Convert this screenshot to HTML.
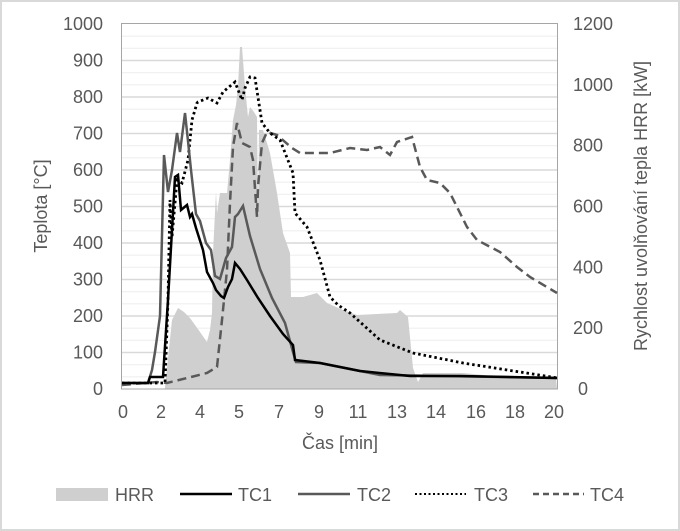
<!DOCTYPE html>
<html><head><meta charset="utf-8"><style>
html,body{margin:0;padding:0;background:#fff}
svg{display:block}
text{font-family:"Liberation Sans",Arial,sans-serif;fill:#595959}
</style></head><body>
<svg width="680" height="531" viewBox="0 0 680 531" xmlns="http://www.w3.org/2000/svg">
<rect x="1" y="1" width="678" height="529" fill="#fff" stroke="#d9d9d9" stroke-width="2"/>
<g id="grid"></g>
<polygon fill="#cfcfcf" points="165,389 165,387 172,320 178,308 184,312 190,318 200,332 207,342 210,330 212,313 213,253 216,192 217,213 220,193 227,193 230,160 233,120 236,105 238,87 240,47 242,47 245,87 248,117 250,107 254,112 257,117 258,215 259,130 263,130 270,153 277,193 283,233 290,253 291,297 303,297 317,293 327,303 343,310 357,315 397,313 400,310 408,317 413,368 418,382 423,373 463,373 513,378 556,378 557,389"/>
<rect x="121.5" y="23.5" width="436" height="365.5" fill="none" stroke="#a6a6a6" stroke-width="1"/>
<polyline fill="none" stroke="#595959" stroke-width="2.5" stroke-dasharray="9,5" points="122,385 157,382 167,383 187,378 207,373 217,367 222,320 227,270 230,203 233,147 237,123 242,143 250,147 253,160 257,217 258,187 262,143 267,132 277,135 292,148 300,153 330,153 350,148 367,150 380,147 390,155 397,142 412,137 420,167 427,180 440,183 450,193 457,207 467,227 477,240 500,252 517,267 530,277 557,293"/>
<polyline fill="none" stroke="#000" stroke-width="2.8" stroke-dasharray="2.5,3" points="122,383 160,383 165,383 168,300 170,200 172,237 177,180 182,183 188,160 192,120 197,103 198,102 208,98 217,103 223,92 235,82 242,100 245,88 250,77 255,78 262,123 270,133 280,140 293,173 295,213 307,227 320,260 330,297 338,305 350,313 380,340 413,353 463,363 558,378"/>
<polyline fill="none" stroke="#595959" stroke-width="2.5" points="122,383 148,383 152,370 155,352 160,316 164,155 168,192 172,170 177,133 180,152 185,113 188,141 191,170 196,214 200,221 206,243 211,250 215,276 220,279 226,258 232,247 235,217 238,214 243,206 250,236 260,269 272,298 285,323 293,352 296,362 320,363 380,375 557,378"/>
<polyline fill="none" stroke="#000" stroke-width="2.5" points="122,383 148,383 150,377 160,377 163,377 168,300 172,230 175,177 178,175 181,210 187,205 190,217 192,214 196,228 203,250 207,272 213,283 216,290 221,296 224,298 228,287 232,279 235,263 240,269 247,280 258,298 270,316 283,334 293,345 295,360 320,363 360,371 410,376 460,376 557,378"/>
<g font-size="18" text-anchor="end" id="lt"></g>
<g font-size="18" text-anchor="start" id="rt"></g>
<g font-size="18" text-anchor="middle">
<text x="123" y="418">0</text><text x="161" y="418">2</text><text x="200" y="418">4</text><text x="239" y="418">5</text><text x="279" y="418">7</text><text x="319" y="418">9</text><text x="358" y="418">11</text><text x="397" y="418">13</text><text x="436" y="418">14</text><text x="476" y="418">16</text><text x="515" y="418">18</text><text x="554" y="418">20</text>
<text x="340" y="449">Čas [min]</text>
</g>
<text font-size="18" text-anchor="middle" transform="translate(47,206) rotate(-90)">Teplota [°C]</text>
<text font-size="18" text-anchor="middle" transform="translate(647,206) rotate(-90)">Rychlost uvolňování tepla HRR [kW]</text>
<rect x="56" y="488" width="52" height="13" fill="#cfcfcf"/>
<text x="115" y="501" font-size="18">HRR</text>
<line x1="180" y1="494" x2="232" y2="494" stroke="#000" stroke-width="2.5"/>
<text x="238" y="501" font-size="18">TC1</text>
<line x1="298" y1="494" x2="350" y2="494" stroke="#595959" stroke-width="2.5"/>
<text x="357" y="501" font-size="18">TC2</text>
<line x1="415" y1="494" x2="466" y2="494" stroke="#000" stroke-width="2" stroke-dasharray="2,2.5"/>
<text x="474" y="501" font-size="18">TC3</text>
<line x1="533" y1="494" x2="584" y2="494" stroke="#595959" stroke-width="2.5" stroke-dasharray="6,4"/>
<text x="590" y="501" font-size="18">TC4</text>
</svg>
<script>
var ns="http://www.w3.org/2000/svg";
var g=document.getElementById("grid");
for(var i=1;i<30;i++){var y=389-i*36.5/3;var l=document.createElementNS(ns,"line");
l.setAttribute("x1",121.5);l.setAttribute("x2",557.5);l.setAttribute("y1",y);l.setAttribute("y2",y);
l.setAttribute("stroke",i%3==0?"#d9d9d9":"#efefef");l.setAttribute("stroke-width",i%3==0?1.5:1.2);g.appendChild(l);}
var lt=document.getElementById("lt");
for(var i=0;i<=10;i++){var t=document.createElementNS(ns,"text");t.setAttribute("x",103);t.setAttribute("y",389-i*36.5+6);t.textContent=i*100;lt.appendChild(t);}
var rt=document.getElementById("rt");
for(var i=0;i<=6;i++){var t=document.createElementNS(ns,"text");t.setAttribute("x",i==0?578:573);t.setAttribute("y",389-i*60.83+6);t.textContent=i*200;rt.appendChild(t);}
</script>
</body></html>
